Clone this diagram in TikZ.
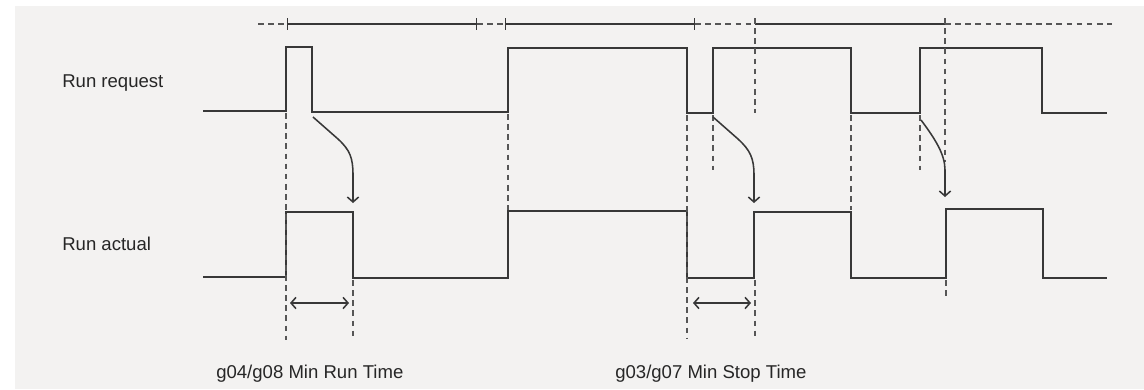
\documentclass[tikz,border=0pt]{standalone}
\usepackage{fontspec}
\setmainfont{Liberation Sans}
\usetikzlibrary{arrows.meta}
\definecolor{bggray}{HTML}{F3F2F1}
\definecolor{linegray}{HTML}{383838}
\tikzset{
  signal/.style={draw=linegray, line width=1.1pt},
  guide/.style={draw=linegray!85, line width=1.1pt, dash pattern=on 4pt off 3.2pt},
  span/.style={draw=linegray, line width=1pt, {Bar[width=8pt]}-{Bar[width=8pt]}},
  cause/.style={draw=linegray, line width=1.1pt, -{Straight Barb[length=3.5pt,width=8pt]}},
  holdtime/.style={draw=linegray, line width=1.1pt, {Straight Barb[length=3.5pt,width=8pt]}-{Straight Barb[length=3.5pt,width=8pt]}},
  sigtext/.style={anchor=base west, inner sep=0pt, text=black!85, font=\fontsize{13.2}{15}\selectfont},
}
\begin{document}
\begin{tikzpicture}[x=0.025cm, y=-0.025cm]
\useasboundingbox (0,0) rectangle (1144,389);
\fill[bggray] (15,6) rectangle (1144,389);

% labels
\node[sigtext] (req) at (62,87) {Run request};
\node[sigtext] (act) at (62,250) {Run actual};
\node[sigtext] (runt) at (216,378) {g04/g08 Min Run Time};
\node[sigtext] (stopt) at (615,378) {g03/g07 Min Stop Time};

% time bar on top
\draw[guide] (258,24) -- (287,24);
\draw[span] (287,24) -- (477,24);
\draw[guide] (477,24) -- (505,24);
\draw[span] (505,24) -- (695,24);
\draw[guide] (695,24) -- (755,24);
\draw[signal] (755,24) -- (945,24);
\draw[guide] (945,24) -- (1112,24);

% run request
\draw[signal] (203,111) -- (286,111) -- (286,47) -- (312,47) -- (312,112) -- (508,112) -- (508,48)
  -- (687,48) -- (687,113) -- (713,113) -- (713,48) -- (851,48) -- (851,113) -- (920,113)
  -- (920,48) -- (1042,48) -- (1042,113) -- (1107,113);

% run actual
\draw[signal] (203,277) -- (286,277) -- (286,212) -- (353,212) -- (353,278) -- (508,278) -- (508,211)
  -- (687,211) -- (687,278) -- (754,278) -- (754,212) -- (851,212) -- (851,278) -- (946,278)
  -- (946,209) -- (1043,209) -- (1043,278) -- (1107,278);

% guide lines
\foreach \x/\ya/\yb in {286/113/340, 353/280/338, 508/114/210, 687/115/338, 713/115/170,
  755/18/113, 755/280/338, 851/115/210, 920/115/170, 945/18/162, 946/280/298}
  \draw[guide] (\x,\ya) -- (\x,\yb);

% request -> actual
\coordinate (r1) at (313,117);
\coordinate (a1) at (353,203);
\coordinate (r2) at (713,117);
\coordinate (a2) at (754,203);
\coordinate (r3) at (921,120);
\coordinate (a3) at (945,197);
\draw[cause] (r1) -- (338,139) .. controls (350,150) and (353,158) .. (353,175) -- (a1);
\draw[cause] (r2) -- (738,139) .. controls (750,150) and (754,158) .. (754,175) -- (a2);
\draw[cause] (r3) .. controls (936,140) and (945,155) .. (945,170) -- (a3);

% min times
\coordinate (rt1) at (290,303);
\coordinate (rt2) at (349,303);
\coordinate (st1) at (693,303);
\coordinate (st2) at (751,303);
\draw[holdtime] (rt1) -- (rt2);
\draw[holdtime] (st1) -- (st2);
\end{tikzpicture}
\end{document}
